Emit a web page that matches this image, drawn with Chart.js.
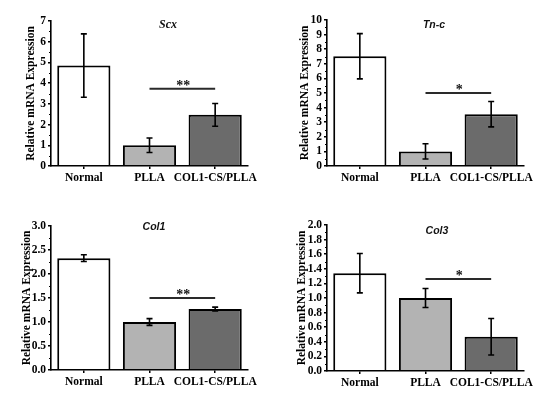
<!DOCTYPE html>
<html>
<head>
<meta charset="utf-8">
<script src="https://cdn.jsdelivr.net/npm/chart.js@4/dist/chart.umd.min.js"></script>
<style>
  body { margin: 0; background: #fff; }
  #wrap { position: relative; width: 554px; height: 396px; }
  canvas { position: absolute; }
</style>
</head>
<body>
<div id="wrap">
  <canvas id="c0" width="277" height="198" style="left:0;top:0"></canvas>
  <canvas id="c1" width="277" height="198" style="left:277px;top:0"></canvas>
  <canvas id="c2" width="277" height="198" style="left:0;top:198px"></canvas>
  <canvas id="c3" width="277" height="198" style="left:277px;top:198px"></canvas>
</div>
<script>
// data
const groups = ["Normal", "PLLA", "COL1-CS/PLLA"];
const genes = ["Scx", "Tn-c", "Col1", "Col3"];

const scxMean = [4.85, 1.0, 2.47];
const scxSd = [1.53, 0.35, 0.55];
const tncMean = [7.52, 1.0, 3.55];
const tncSd = [1.55, 0.52, 0.87];
const col1Mean = [2.33, 1.0, 1.27];
const col1Sd = [0.07, 0.07, 0.04];
const col3Mean = [1.34, 1.0, 0.47];
const col3Sd = [0.27, 0.13, 0.25];

const sigMarks = ["**", "*", "**", "*"];
const sigLevel = [3.73, 5.0, 1.5, 1.26];

const yMax = [7, 10, 3, 2];
const yStep = [1, 1, 0.5, 0.2];
const yMinor = [0.5, 0.5, 0.25, 0.1];
const yDecimals = [0, 0, 1, 1];

const means = [scxMean, tncMean, col1Mean, col3Mean];
const sds = [scxSd, tncSd, col1Sd, col3Sd];

const barColors = ["#ffffff", "#b3b3b3", "#6b6b6b"];

// per-panel placement inside each 277x198 canvas
const panels = [
  { padLeft: 20, yWidth: 31, top: 21, bottom: 166, right: 29, tx: 168, ty: 25, tFont: "italic bold 12px 'Liberation Serif'" },
  { padLeft: 17, yWidth: 33, top: 20, bottom: 166, right: 30, tx: 157, ty: 25, tFont: "italic bold 10.5px 'Liberation Sans'" },
  { padLeft: 16, yWidth: 35, top: 28, bottom: 172, right: 29, tx: 154, ty: 29, tFont: "italic bold 10.5px 'Liberation Sans'" },
  { padLeft: 14, yWidth: 36, top: 27, bottom: 173, right: 30, tx: 160, ty: 33, tFont: "italic bold 10.5px 'Liberation Sans'" }
];

const serif = "'Liberation Serif', 'Times New Roman', serif";

const extras = {
  id: "extras",
  afterDatasetsDraw(chart, args, opts) {
    const k = opts.k;
    const ctx = chart.ctx;
    const y = chart.scales.y;
    const meta = chart.getDatasetMeta(0);
    ctx.save();
    ctx.strokeStyle = "#000";
    ctx.lineWidth = 1.6;
    // error bars
    meta.data.forEach((bar, i) => {
      const top = y.getPixelForValue(means[k][i] + sds[k][i]);
      const bot = y.getPixelForValue(means[k][i] - sds[k][i]);
      ctx.beginPath();
      ctx.moveTo(bar.x, top); ctx.lineTo(bar.x, bot);
      ctx.moveTo(bar.x - 3, top); ctx.lineTo(bar.x + 3, top);
      ctx.moveTo(bar.x - 3, bot); ctx.lineTo(bar.x + 3, bot);
      ctx.stroke();
    });
    // minor ticks on y axis
    const ax = chart.chartArea.left;
    ctx.lineWidth = 1;
    for (let v = yMinor[k]; v < yMax[k]; v += yStep[k]) {
      const py = Math.round(y.getPixelForValue(v)) + 0.5;
      ctx.beginPath();
      ctx.moveTo(ax - 2, py); ctx.lineTo(ax, py);
      ctx.stroke();
    }
    // significance line
    const x1 = meta.data[1].x, x2 = meta.data[2].x;
    const sy = y.getPixelForValue(sigLevel[k]);
    ctx.strokeStyle = "#2a2a2a";
    ctx.lineWidth = 2.2;
    ctx.beginPath();
    ctx.moveTo(x1, sy); ctx.lineTo(x2, sy);
    ctx.stroke();
    ctx.fillStyle = "#111";
    ctx.font = "bold 14px " + serif;
    ctx.textAlign = "center";
    ctx.textBaseline = "alphabetic";
    ctx.fillText(sigMarks[k], (x1 + x2) / 2 + 1, sy + 1);
    // gene title
    const p = panels[k];
    ctx.font = p.tFont;
    ctx.fillStyle = "#111";
    ctx.textBaseline = "middle";
    ctx.fillText(genes[k], p.tx, p.ty);
    ctx.restore();
  }
};

genes.forEach((g, k) => {
  const p = panels[k];
  new Chart(document.getElementById("c" + k), {
    type: "bar",
    data: {
      labels: groups,
      datasets: [{
        data: means[k],
        backgroundColor: barColors,
        borderColor: "#000",
        borderWidth: 2,
        borderSkipped: "bottom",
        barPercentage: 0.81,
        categoryPercentage: 1
      }]
    },
    options: {
      responsive: false,
      animation: false,
      layout: { padding: { left: p.padLeft, top: p.top, right: p.right, bottom: 0 } },
      plugins: {
        legend: { display: false },
        tooltip: { enabled: false },
        extras: { k: k }
      },
      scales: {
        x: {
          afterFit: s => { s.height = 198 - p.bottom; },
          grid: { offset: false, drawOnChartArea: false, drawTicks: true, tickLength: 3, color: "#000", lineWidth: 1.5 },
          border: { display: true, color: "#000", width: 1.6, z: 1 },
          ticks: {
            color: "#000", padding: 2, autoSkip: false, maxRotation: 0, minRotation: 0,
            font: { family: serif, size: 11.5, weight: "bold" }
          }
        },
        y: {
          min: 0,
          max: yMax[k],
          afterFit: s => { s.width = p.yWidth; },
          grid: { drawOnChartArea: false, drawTicks: true, tickLength: 3, color: "#000", lineWidth: 1.5 },
          border: { display: true, color: "#000", width: 1.6 },
          ticks: {
            stepSize: yStep[k],
            autoSkip: false,
            color: "#000",
            padding: 2,
            font: { family: serif, size: 11.5, weight: "bold" },
            callback: v => Number(v).toFixed(yDecimals[k])
          },
          title: {
            display: true,
            text: "Relative mRNA Expression",
            color: "#000",
            padding: { top: 4, bottom: 0 },
            font: { family: serif, size: 11.5, weight: "bold" }
          }
        }
      }
    },
    plugins: [extras]
  });
});
</script>
</body>
</html>
